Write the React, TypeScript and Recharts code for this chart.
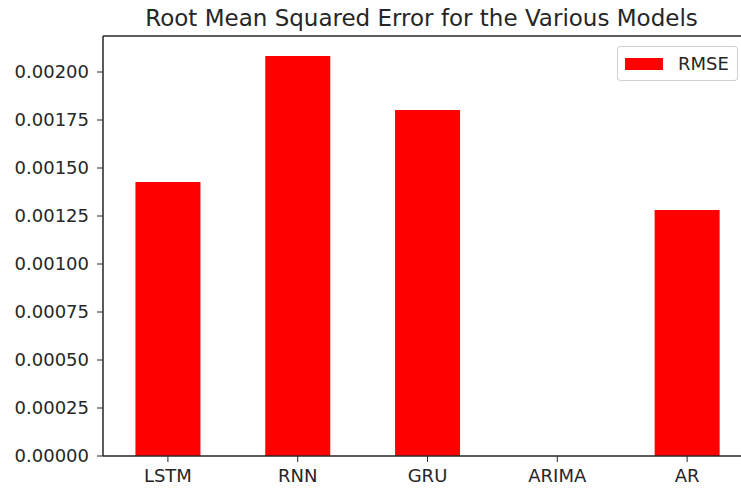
import { Bar, BarChart, ReferenceLine, XAxis, YAxis } from "recharts";

const models = ["LSTM", "RNN", "GRU", "ARIMA", "AR"];
const rmse = [0.001427, 0.002083, 0.001802, 0, 0.001281];
const yTicks = [0, 0.00025, 0.0005, 0.00075, 0.001, 0.00125, 0.0015, 0.00175, 0.002];
const yTop = 0.0021875;

const data = models.map((m, i) => ({ model: m, RMSE: rmse[i] }));

const font = "'DejaVu Sans', sans-serif";
const ink = "#262626";

// matplotlib style legend box, placed over the plot
const LegendBox = () => (
  <div
    style={{
      position: "absolute",
      left: 617,
      top: 46,
      width: 119,
      height: 33,
      border: "1px solid rgba(0,0,0,0.18)",
      borderRadius: 4,
      background: "rgba(255,255,255,0.8)",
      display: "flex",
      alignItems: "center",
      fontFamily: font,
      fontSize: 18,
      color: ink,
    }}
  >
    <span style={{ display: "inline-block", width: 38, height: 12, background: "#ff0000", marginLeft: 7, marginRight: 15 }} />
    <span>RMSE</span>
  </div>
);

const App = () => {
  return (
    <div
      style={{
        position: "fixed",
        left: 0,
        top: 0,
        width: 741,
        height: 490,
        overflow: "hidden",
        background: "#fff",
      }}
    >
      <div
        style={{
          position: "absolute",
          left: 0,
          width: 843,
          top: 5,
          textAlign: "center",
          fontFamily: font,
          fontSize: 23,
          color: ink,
          whiteSpace: "nowrap",
        }}
      >
        Root Mean Squared Error for the Various Models
      </div>
      <BarChart
        width={760}
        height={490}
        data={data}
        margin={{ top: 36, right: 8, bottom: 0, left: 8 }}
        barCategoryGap="25%"
      >
        <XAxis
          dataKey="model"
          height={34}
          tickSize={6}
          tickMargin={7}
          axisLine={{ stroke: ink, strokeWidth: 1.5 }}
          tickLine={{ stroke: ink }}
          tick={{ fill: ink, fontFamily: font, fontSize: 18 }}
        />
        <YAxis
          width={95}
          domain={[0, yTop]}
          ticks={yTicks}
          tickFormatter={(v: number) => v.toFixed(5)}
          tickSize={6}
          tickMargin={8}
          axisLine={{ stroke: ink, strokeWidth: 1.5 }}
          tickLine={{ stroke: ink }}
          tick={{ fill: ink, fontFamily: font, fontSize: 18 }}
        />
        <ReferenceLine y={yTop} stroke={ink} strokeWidth={1.5} />
        <Bar dataKey="RMSE" fill="#ff0000" isAnimationActive={false} />
      </BarChart>
      <LegendBox />
    </div>
  );
};

export default App;
